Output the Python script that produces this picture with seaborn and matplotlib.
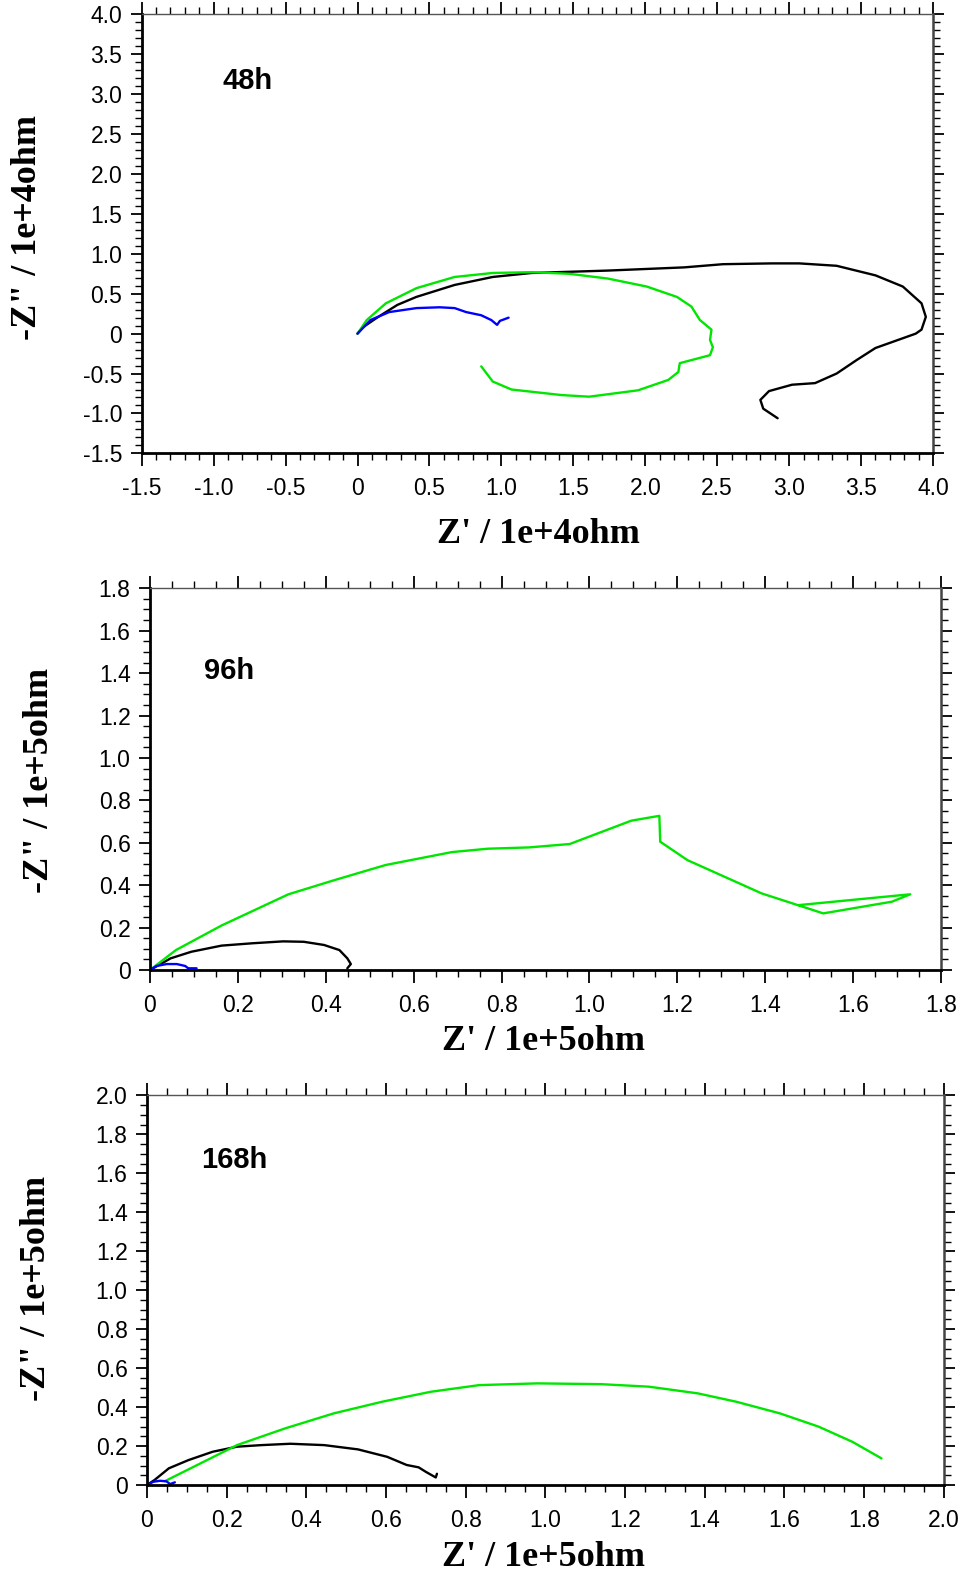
import numpy as np
import pandas as pd
import matplotlib
matplotlib.use("Agg")
import matplotlib.pyplot as plt
import seaborn as sns
from matplotlib import font_manager
from matplotlib.ticker import MultipleLocator, FuncFormatter

# ---- data (Nyquist plots) ----
# 48h, units of 1e4 ohm
h48_black_x = [0, 0.038, 0.144, 0.277, 0.409, 0.675, 0.94, 1.21, 1.74, 2.27, 2.54, 2.88, 3.07,
               3.33, 3.60, 3.79, 3.92, 3.95, 3.92, 3.88, 3.60, 3.47, 3.33, 3.18, 3.02, 2.86,
               2.80, 2.82, 2.92]
h48_black_y = [0, 0.08, 0.21, 0.36, 0.46, 0.61, 0.71, 0.76, 0.79, 0.83, 0.87, 0.88, 0.88,
               0.85, 0.73, 0.59, 0.38, 0.21, 0.05, 0.0, -0.18, -0.33, -0.50, -0.62, -0.64,
               -0.72, -0.83, -0.94, -1.06]
h48_green_x = [0, 0.064, 0.197, 0.41, 0.675, 0.94, 1.21, 1.47, 1.74, 2.01, 2.22, 2.32, 2.38,
               2.46, 2.45, 2.47, 2.45, 2.24, 2.23, 2.16, 1.95, 1.61, 1.42, 1.07, 0.94, 0.86]
h48_green_y = [0, 0.17, 0.38, 0.57, 0.71, 0.76, 0.77, 0.75, 0.69, 0.59, 0.46, 0.34, 0.17,
               0.05, -0.08, -0.17, -0.27, -0.37, -0.48, -0.58, -0.71, -0.79, -0.77, -0.70,
               -0.60, -0.41]
h48_blue_x = [0, 0.09, 0.22, 0.41, 0.57, 0.675, 0.755, 0.86, 0.93, 0.97, 0.99, 1.05]
h48_blue_y = [0, 0.17, 0.27, 0.32, 0.33, 0.32, 0.27, 0.23, 0.17, 0.11, 0.16, 0.20]

# 96h, units of 1e5 ohm
h96_black_x = [0, 0.047, 0.094, 0.163, 0.233, 0.303, 0.35, 0.396, 0.431, 0.449, 0.457, 0.449]
h96_black_y = [0, 0.055, 0.086, 0.115, 0.126, 0.135, 0.133, 0.118, 0.094, 0.055, 0.028, 0.008]
h96_green_x = [0, 0.059, 0.163, 0.315, 0.42, 0.536, 0.687, 0.769, 0.862, 0.955, 1.095, 1.159,
               1.161, 1.223, 1.392, 1.532, 1.688, 1.730, 1.476]
h96_green_y = [0, 0.094, 0.21, 0.357, 0.424, 0.495, 0.556, 0.572, 0.578, 0.594, 0.704, 0.727,
               0.605, 0.518, 0.361, 0.267, 0.322, 0.357, 0.306]
h96_blue_x = [0, 0.015, 0.038, 0.061, 0.08, 0.087, 0.106]
h96_blue_y = [0, 0.019, 0.028, 0.028, 0.019, 0.008, 0.008]

# 168h, units of 1e5 ohm
h168_black_x = [0, 0.019, 0.055, 0.104, 0.165, 0.226, 0.287, 0.36, 0.445, 0.53, 0.603, 0.652,
                0.682, 0.70, 0.725, 0.728]
h168_black_y = [0, 0.026, 0.086, 0.128, 0.171, 0.197, 0.205, 0.212, 0.205, 0.183, 0.145, 0.103,
                0.091, 0.068, 0.039, 0.058]
h168_green_x = [0.045, 0.226, 0.347, 0.469, 0.591, 0.713, 0.834, 0.98, 1.139, 1.26, 1.382,
                1.479, 1.589, 1.686, 1.771, 1.844]
h168_green_y = [0.02, 0.205, 0.291, 0.368, 0.428, 0.479, 0.513, 0.522, 0.518, 0.505, 0.471,
                0.428, 0.368, 0.30, 0.222, 0.137]
h168_blue_x = [0, 0.016, 0.033, 0.049, 0.058, 0.07]
h168_blue_y = [0, 0.017, 0.022, 0.019, 0.005, 0.014]

COLORS = {"black": "#000000", "green": "#00e600", "blue": "#0000ff"}

sns.set_theme(style="ticks")
names = {f.name for f in font_manager.fontManager.ttflist}
narrow = next((n for n in ["Liberation Sans Narrow", "Arial Narrow", "DejaVu Sans Condensed"]
               if n in names), None)
TICK_FONT = narrow if narrow else "Liberation Sans"
TICK_SIZE = 18 if narrow else 16.5
plt.rcParams["font.family"] = ["Liberation Sans", "DejaVu Sans"]
plt.rcParams["text.color"] = "black"
plt.rcParams["axes.labelcolor"] = "black"
plt.rcParams["xtick.color"] = "black"
plt.rcParams["ytick.color"] = "black"


def make_df(series):
    rows = []
    for name, xs, ys in series:
        for i, (x, y) in enumerate(zip(xs, ys)):
            rows.append({"series": name, "order": i, "x": x, "y": y})
    return pd.DataFrame(rows)


def fmt(v, pos):
    return "0" if abs(v) < 1e-9 else f"{v:.1f}"


fig = plt.figure(figsize=(9.6, 15.78), dpi=100)

panels = [
    dict(rect=[0.1476, 0.7127, 0.8243, 0.2782], lim=(-1.5, 4.0), major=0.5, minor=0.1,
         series=[("black", h48_black_x, h48_black_y), ("green", h48_green_x, h48_green_y),
                 ("blue", h48_blue_x, h48_blue_y)],
         tag="48h", tagpos=(0.134, 0.848), unit="1e+4ohm",
         ylab=(28, 228), xlab=(538, 535)),
    dict(rect=[0.15625, 0.3853, 0.824, 0.2419], lim=(0, 1.8), major=0.2, minor=0.05,
         series=[("black", h96_black_x, h96_black_y), ("green", h96_green_x, h96_green_y),
                 ("blue", h96_blue_x, h96_blue_y)],
         tag="96h", tagpos=(0.100, 0.783), unit="1e+5ohm",
         ylab=(40, 780), xlab=(543, 1041)),
    dict(rect=[0.1531, 0.0589, 0.8298, 0.2469], lim=(0, 2.0), major=0.2, minor=0.05,
         series=[("black", h168_black_x, h168_black_y), ("green", h168_green_x, h168_green_y),
                 ("blue", h168_blue_x, h168_blue_y)],
         tag="168h", tagpos=(0.110, 0.834), unit="1e+5ohm",
         ylab=(37, 1288), xlab=(543, 1557)),
]

W, H = 960, 1578
for p in panels:
    ax = fig.add_axes(p["rect"])
    df = make_df(p["series"])
    # one line per series, drawn in measurement order
    for name, g in df.groupby("series", sort=False):
        sns.lineplot(data=g, x="x", y="y", color=COLORS[name], estimator=None, sort=False,
                     lw=1.7, legend=False, ax=ax)

    lo, hi = p["lim"]
    ax.set_xlim(lo, hi)
    ax.set_ylim(lo, hi)
    ax.xaxis.set_major_locator(MultipleLocator(p["major"]))
    ax.yaxis.set_major_locator(MultipleLocator(p["major"]))
    ax.xaxis.set_minor_locator(MultipleLocator(p["minor"]))
    ax.yaxis.set_minor_locator(MultipleLocator(p["minor"]))
    ax.xaxis.set_major_formatter(FuncFormatter(fmt))
    ax.yaxis.set_major_formatter(FuncFormatter(fmt))
    ax.set_xlabel("")
    ax.set_ylabel("")

    ax.tick_params(which="both", direction="out", top=True, right=True, color="black")
    ax.tick_params(axis="x", which="major", length=9, width=1.3, pad=8)
    ax.tick_params(axis="y", which="major", length=8, width=1.3, pad=6)
    ax.tick_params(which="minor", length=5, width=1.0)
    for ticks in (ax.xaxis.get_major_ticks(), ax.xaxis.get_minor_ticks(),
                  ax.yaxis.get_major_ticks(), ax.yaxis.get_minor_ticks()):
        for t in ticks:
            t.tick2line.set_color("#888888")
    for lab in ax.get_xticklabels() + ax.get_yticklabels():
        lab.set_fontfamily(TICK_FONT)
        lab.set_fontsize(TICK_SIZE)
        lab.set_color("black")

    ax.spines["left"].set_linewidth(2.0)
    ax.spines["bottom"].set_linewidth(2.0)
    ax.spines["left"].set_color("black")
    ax.spines["bottom"].set_color("black")
    ax.spines["top"].set_linewidth(1.0)
    ax.spines["top"].set_color("#555555")
    ax.spines["right"].set_linewidth(1.8)
    ax.spines["right"].set_color("#444444")

    ax.text(p["tagpos"][0], p["tagpos"][1], p["tag"], transform=ax.transAxes,
            ha="center", va="center", fontsize=21, fontweight="bold", color="black",
            family=["Liberation Sans", "DejaVu Sans"])

    fig.text(p["ylab"][0] / W, 1 - p["ylab"][1] / H, '-Z" / ' + p["unit"], rotation=90,
             ha="center", va="center", fontsize=26, fontweight="bold", color="black",
             family=["Liberation Serif", "DejaVu Serif"])
    fig.text(p["xlab"][0] / W, 1 - p["xlab"][1] / H, "Z' / " + p["unit"],
             ha="center", va="center", fontsize=26, fontweight="bold", color="black",
             family=["Liberation Serif", "DejaVu Serif"])

fig.savefig("out.png", dpi=100, facecolor="white")
